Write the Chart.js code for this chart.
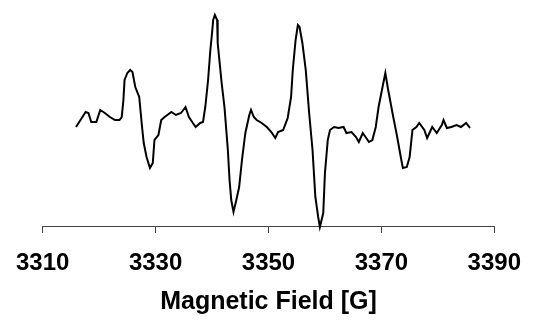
<!DOCTYPE html>
<html>
<head>
<meta charset="utf-8">
<script src="https://cdn.jsdelivr.net/npm/chart.js@4/dist/chart.umd.min.js"></script>
<style>
  body { margin: 0; background: #fff; }
  #wrap { width: 537px; height: 322px; }
</style>
</head>
<body>
<div id="wrap"><canvas id="eprChart" width="537" height="322"></canvas></div>
<script>
// magnetic field [G] and signal (arbitrary units)
const field = [
  3315.9, 3316.7, 3317.6, 3318.1, 3318.6, 3319.5, 3320.2, 3321.0, 3321.9, 3322.8,
  3323.6, 3324.0, 3324.3, 3324.5, 3325.0, 3325.5, 3325.9, 3326.4, 3327.1, 3327.6,
  3327.9, 3328.4, 3329.0, 3329.5, 3329.8, 3330.5, 3331.0, 3331.6, 3332.8, 3333.6,
  3334.5, 3335.3, 3335.9, 3336.6, 3337.1, 3337.9, 3338.4, 3338.8, 3339.3, 3339.7,
  3340.0, 3340.2, 3340.5, 3340.9, 3341.0, 3341.7, 3342.2, 3342.8, 3343.1, 3343.4,
  3343.8, 3344.3, 3344.8, 3345.3, 3345.9, 3346.6, 3346.9, 3347.4, 3347.9, 3348.8,
  3349.7, 3350.5, 3351.2, 3351.7, 3352.6, 3353.4, 3354.0, 3354.3, 3354.8, 3355.2,
  3355.5, 3356.0, 3356.6, 3357.2, 3357.8, 3358.3, 3358.8, 3359.1, 3359.7, 3360.0,
  3360.5, 3360.9, 3361.6, 3362.4, 3363.3, 3363.8, 3364.7, 3365.5, 3366.0, 3366.7,
  3367.8, 3368.4, 3369.0, 3369.5, 3370.2, 3370.7, 3371.2, 3372.1, 3372.8, 3373.3,
  3373.8, 3374.5, 3375.0, 3375.5, 3376.2, 3376.7, 3377.6, 3378.1, 3379.0, 3379.8,
  3380.7, 3381.0, 3381.6, 3382.4, 3383.3, 3384.1, 3385.0, 3385.7
];
const signal = [
  -1, 6, 14, 13, 4, 4, 16, 13, 9, 6,
  6, 9, 26, 46, 53, 56, 54, 39, 29, -1,
  -17, -31, -42, -37, -14, -9, 6, 9, 14, 11,
  13, 19, 9, 3, -1, 3, 4, 19, 46, 76,
  93, 106, 111, 106, 83, 43, 19, -24, -54, -74,
  -86, -74, -61, -34, -7, 11, 16, 9, 6, 3,
  -1, -6, -12, -6, -4, 8, 29, 56, 86, 101,
  99, 83, 56, 13, -24, -71, -91, -101, -87, -47,
  -14, -4, -1, -2, -1, -7, -6, -11, -16, -7,
  -16, -14, -1, 19, 39, 53, 36, 9, -11, -27,
  -42, -41, -31, -4, -1, 3, -4, -12, -1, -7,
  1, 6, -2, -1, 1, -1, 3, -2
];
const fieldTicks = [3310, 3330, 3350, 3370, 3390];

const points = field.map((b, i) => ({ x: b, y: signal[i] }));

new Chart(document.getElementById('eprChart'), {
  type: 'line',
  data: {
    datasets: [{
      data: points,
      borderColor: '#000',
      borderWidth: 2,
      pointRadius: 0,
      tension: 0,
      fill: false,
      clip: false
    }]
  },
  options: {
    responsive: false,
    animation: false,
    layout: { padding: { left: 38, right: 35, top: 0, bottom: 0 } },
    plugins: {
      legend: { display: false },
      tooltip: { enabled: false }
    },
    scales: {
      x: {
        type: 'linear',
        min: 3310,
        max: 3390,
        afterBuildTicks: (scale) => {
          scale.ticks = fieldTicks.map(v => ({ value: v }));
        },
        afterFit: (scale) => { scale.height = 96; },
        grid: {
          display: true,
          drawOnChartArea: false,
          drawTicks: true,
          tickLength: 7,
          color: '#444'
        },
        border: { display: true, color: '#444', width: 1 },
        ticks: {
          color: '#000',
          padding: 16,
          maxRotation: 0,
          callback: (v) => String(v),
          font: { family: '"Liberation Sans", Arial, sans-serif', size: 24, weight: 'bold' }
        },
        title: {
          display: true,
          text: 'Magnetic Field [G]',
          color: '#000',
          padding: { top: 0, bottom: 5 },
          font: { family: '"Liberation Sans", Arial, sans-serif', size: 25, weight: 'bold' }
        }
      },
      y: {
        display: false,
        min: -100,
        max: 126
      }
    }
  }
});
</script>
</body>
</html>
